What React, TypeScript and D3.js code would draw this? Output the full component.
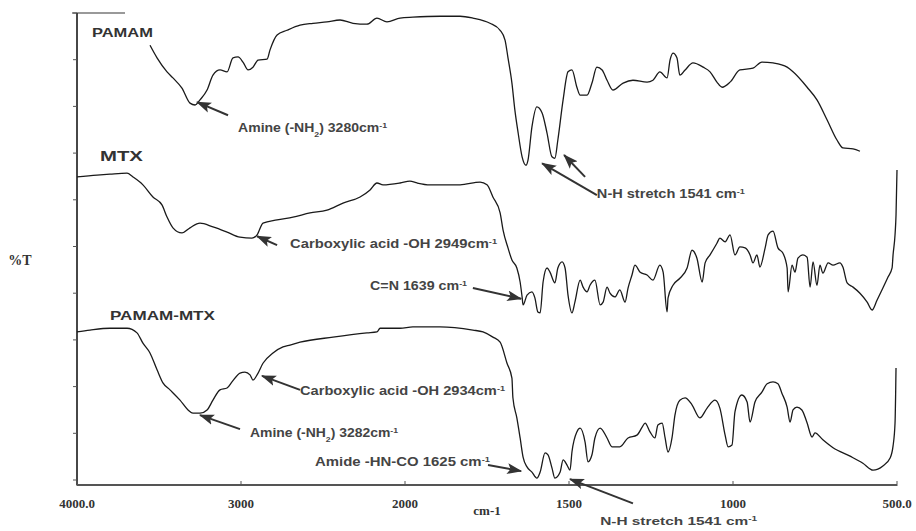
import React from "react";
import * as d3 from "d3";

// ---- data: [wavenumber cm-1, transmittance (arbitrary %T units)] ----
const PAMAM: [number, number][] = [
  [3555, 93.1], [3512, 90.4], [3451, 87.4], [3415, 86.1], [3360, 83.9], [3311, 80.7], [3280, 80.3],
  [3250, 81.4], [3207, 83.5], [3171, 86.7], [3128, 87.8], [3085, 87.4], [3049, 90.4], [3018, 90.6],
  [2988, 89.5], [2957, 87.8], [2927, 88.4], [2896, 89.9], [2841, 90.1], [2823, 92.1], [2780, 95.3],
  [2720, 96.3], [2640, 97.4], [2561, 97.8], [2476, 98.1], [2396, 98.5], [2317, 97.8], [2232, 97.6],
  [2171, 98.9], [2110, 98.1], [2030, 98.9], [1976, 99.1], [1893, 99.3], [1832, 99.3], [1793, 98.9],
  [1741, 97.8], [1710, 96.3], [1695, 94.2], [1686, 90.4], [1674, 85.0], [1665, 79.2], [1655, 74.3],
  [1643, 69.2], [1631, 67.4], [1625, 68.5], [1613, 75.6], [1598, 79.9], [1582, 78.6], [1567, 74.3],
  [1552, 69.2], [1543, 68.9], [1534, 72.8], [1518, 81.4], [1503, 87.4], [1491, 87.8], [1476, 84.1],
  [1466, 82.4], [1445, 82.4], [1430, 85.0], [1415, 88.4], [1399, 87.8], [1384, 85.6], [1366, 83.5],
  [1335, 85.0], [1305, 85.6], [1262, 85.2], [1244, 85.6], [1223, 87.4], [1201, 86.1], [1192, 89.9],
  [1183, 91.4], [1171, 90.4], [1162, 86.7], [1146, 87.8], [1122, 89.3], [1091, 88.4], [1070, 87.4],
  [1049, 85.2], [1033, 84.1], [1009, 85.2], [979, 87.8], [939, 88.2], [912, 89.5], [878, 89.3],
  [835, 88.4], [817, 87.4], [774, 84.1], [744, 81.4], [713, 77.1], [683, 72.8], [665, 71.1],
  [634, 70.9], [613, 70.4],
];

const MTX: [number, number][] = [
  [4000, 64.9], [3878, 65.3], [3799, 65.5], [3695, 65.7], [3659, 64.9], [3598, 63.2], [3537, 60.6],
  [3482, 58.9], [3451, 56.3], [3415, 54.0], [3360, 52.9], [3311, 54.0], [3250, 55.0], [3171, 54.2],
  [3085, 53.1], [3006, 52.0], [2933, 51.8], [2902, 52.5], [2866, 55.0], [2780, 55.7], [2683, 56.3],
  [2579, 57.2], [2476, 57.8], [2378, 59.3], [2274, 60.6], [2213, 62.1], [2171, 63.6], [2134, 63.2],
  [2030, 63.6], [1985, 64.0], [1963, 63.6], [1924, 63.2], [1832, 63.2], [1771, 63.8], [1750, 63.2],
  [1732, 60.6], [1710, 57.2], [1701, 53.5], [1686, 49.7], [1674, 47.1], [1659, 45.4], [1649, 42.4],
  [1643, 39.2], [1640, 37.5], [1628, 39.6], [1613, 40.3], [1604, 39.0], [1595, 36.0], [1588, 35.8],
  [1579, 42.4], [1567, 45.4], [1558, 44.5], [1543, 42.2], [1534, 45.4], [1521, 46.7], [1512, 45.4],
  [1503, 39.6], [1491, 35.8], [1482, 38.1], [1466, 42.8], [1457, 41.3], [1445, 40.3], [1436, 41.7],
  [1421, 42.8], [1405, 37.5], [1396, 38.1], [1384, 41.3], [1375, 40.0], [1360, 39.2], [1345, 40.7],
  [1329, 38.1], [1320, 41.1], [1308, 43.9], [1299, 46.0], [1283, 44.5], [1262, 43.9], [1244, 42.8],
  [1223, 46.0], [1213, 44.5], [1201, 36.0], [1198, 39.0], [1183, 41.7], [1162, 43.2], [1140, 45.4],
  [1125, 49.2], [1110, 47.5], [1094, 42.4], [1085, 46.5], [1070, 48.2], [1049, 50.7], [1040, 51.8],
  [1024, 51.0], [1009, 52.5], [994, 48.2], [979, 49.9], [963, 49.7], [948, 48.2], [939, 46.5],
  [927, 48.2], [918, 45.6], [902, 49.7], [893, 52.5], [878, 53.3], [863, 49.7], [848, 48.6],
  [835, 45.4], [832, 40.3], [820, 46.0], [811, 44.5], [802, 47.5], [787, 48.2], [774, 47.7],
  [765, 41.3], [756, 46.7], [744, 41.7], [735, 46.0], [726, 44.3], [710, 46.5], [695, 46.0],
  [674, 46.5], [665, 45.6], [652, 42.2], [634, 41.3], [613, 40.0], [591, 38.1], [576, 36.4],
  [561, 38.5], [543, 41.1], [527, 43.5], [515, 45.4], [512, 48.2], [506, 52.5], [503, 56.7], [500, 66.4],
];

const PAMAM_MTX: [number, number][] = [
  [4000, 31.7], [3921, 32.1], [3799, 32.5], [3695, 32.5], [3634, 31.5], [3598, 29.3], [3555, 27.2],
  [3512, 23.6], [3476, 20.8], [3433, 19.3], [3372, 17.1], [3323, 15.0], [3293, 14.3], [3250, 14.3],
  [3207, 15.0], [3171, 17.1], [3128, 19.3], [3085, 19.7], [3055, 21.0], [3006, 22.9], [2976, 23.1],
  [2945, 22.5], [2927, 21.4], [2902, 22.5], [2866, 25.0], [2805, 27.2], [2744, 28.5], [2701, 28.9],
  [2640, 29.5], [2439, 30.6], [2232, 31.5], [2171, 31.7], [2152, 32.5], [2030, 32.5], [1976, 32.8],
  [1893, 32.8], [1793, 32.1], [1762, 31.7], [1732, 30.6], [1710, 29.5], [1689, 25.0], [1674, 21.8],
  [1671, 17.6], [1659, 13.3], [1649, 9.0], [1640, 4.9], [1628, 2.8], [1613, 1.7], [1598, 0.4],
  [1588, 1.7], [1573, 5.8], [1564, 5.4], [1552, 2.6], [1543, 0.4], [1527, 1.7], [1518, 4.3],
  [1506, 3.2], [1497, 2.1], [1491, 6.0], [1476, 10.3], [1466, 11.1], [1451, 8.1], [1442, 3.9],
  [1430, 5.4], [1421, 9.0], [1405, 11.1], [1384, 9.0], [1369, 7.1], [1345, 7.1], [1320, 9.0],
  [1293, 9.6], [1277, 11.3], [1268, 12.2], [1253, 10.3], [1238, 9.0], [1229, 11.8], [1216, 12.2],
  [1207, 9.0], [1198, 6.0], [1186, 9.0], [1177, 13.9], [1162, 17.1], [1146, 17.6], [1125, 16.1],
  [1101, 13.3], [1079, 15.4], [1055, 17.1], [1040, 15.4], [1024, 9.6], [1015, 7.1], [1003, 7.5],
  [994, 14.6], [973, 18.2], [957, 16.7], [948, 12.4], [933, 16.7], [912, 18.8], [896, 20.6],
  [878, 21.0], [863, 20.6], [851, 18.6], [835, 15.6], [826, 12.4], [817, 15.0], [805, 15.6],
  [790, 15.0], [774, 12.2], [759, 9.2], [750, 10.1], [726, 8.6], [695, 6.9], [643, 5.1], [604, 3.6],
  [573, 2.1], [543, 3.0], [521, 4.7], [512, 7.3], [506, 12.2], [503, 24.0],
];

const X_TICKS = [4000, 3000, 2000, 1500, 1000, 500];
const X_TICK_LABELS = ["4000.0", "3000", "2000", "1500", "1000", "500.0"];
const Y_TICKS = [0, 10, 20, 30, 40, 50, 60, 70, 80, 90, 100];

// series names: [text, wavenumber, %T]
const SERIES_LABELS: [string, number, number][] = [
  ["PAMAM", 3909, 94.8],
  ["MTX", 3860, 68.3],
  ["PAMAM-MTX", 3799, 34.3],
];
const SERIES_LABEL_WIDTH = [61, 43, 105];

// annotations: text parts, text anchor (wn, T), arrows [tailWn, tailT, tipWn, tipT]
type Part = { t: string; s?: "sup" | "sub" };
const ANNOT_TEXTS: Part[][] = [
  [{ t: "Amine (-NH" }, { t: "2", s: "sub" }, { t: ") 3280cm" }, { t: "-1", s: "sup" }],
  [{ t: "N-H stretch 1541 cm" }, { t: "-1", s: "sup" }],
  [{ t: "Carboxylic acid -OH 2949cm" }, { t: "-1", s: "sup" }],
  [{ t: "C=N 1639 cm" }, { t: "-1", s: "sup" }],
  [{ t: "Carboxylic acid -OH 2934cm" }, { t: "-1", s: "sup" }],
  [{ t: "Amine (-NH" }, { t: "2", s: "sub" }, { t: ") 3282cm" }, { t: "-1", s: "sup" }],
  [{ t: "Amide -HN-CO 1625 cm" }, { t: "-1", s: "sup" }],
  [{ t: "N-H stretch 1541 cm" }, { t: "-1", s: "sup" }],
];
const ANNOT_POS: [number, number][] = [
  [3018, 74.7], [1415, 60.4], [2701, 49.7], [2213, 40.7], [2640, 18.4], [2945, 9.4], [2549, 3.0], [1405, -9.6],
];
const ANNOT_WIDTH = [149, 148, 207, 97, 205, 148, 175, 157];
const ARROWS: [number, number, number, number][] = [
  [3079, 78.1, 3268, 80.9],
  [1415, 61.0, 1582, 67.8],
  [1451, 64.9, 1515, 69.6],
  [2780, 50.3, 2902, 52.2],
  [1793, 41.1, 1646, 38.8],
  [2640, 19.3, 2872, 22.3],
  [3006, 10.9, 3250, 13.9],
  [1747, 3.2, 1646, 1.9],
  [1305, -5.0, 1497, 0.2],
];

const W = 916;
const H = 531;

export default function App() {
  const x = d3.scaleLinear().domain([4000, 2000, 500]).range([77, 405, 897]);
  const y = d3.scaleLinear().domain([0, 100]).range([480, 13]);
  const line = d3
    .line<[number, number]>()
    .x((d) => x(d[0]))
    .y((d) => y(d[1]))
    .curve(d3.curveMonotoneX);

  const sans = "'Liberation Sans', Arial, sans-serif";
  const serif = "'Liberation Serif', 'Times New Roman', serif";
  const axisY = 485;

  return (
    <svg
      width={W}
      height={H}
      viewBox={`0 0 ${W} ${H}`}
      style={{ position: "absolute", left: 0, top: 0, background: "#fff" }}
    >
      <defs>
        <marker
          id="ah"
          viewBox="0 0 14 10"
          refX="13"
          refY="5"
          markerWidth="15"
          markerHeight="11"
          markerUnits="userSpaceOnUse"
          orient="auto"
        >
          <path d="M0,0 L14,5 L0,10 L3,5 Z" fill="#333" />
        </marker>
      </defs>
      <rect x={0} y={0} width={W} height={H} fill="#fff" />

      {/* axes */}
      <line x1={72} x2={125} y1={y(100)} y2={y(100)} stroke="#777" strokeWidth={1.5} />
      <line x1={x(4000)} x2={x(4000)} y1={y(100)} y2={axisY} stroke="#333" strokeWidth={1.8} />
      {Y_TICKS.map((t) => (
        <line key={t} x1={x(4000) - 4} x2={x(4000)} y1={y(t)} y2={y(t)} stroke="#555" strokeWidth={1} />
      ))}
      <line x1={x(4000)} x2={x(500)} y1={axisY} y2={axisY} stroke="#555" strokeWidth={1.8} />
      {X_TICKS.map((t, i) => (
        <g key={t}>
          <line x1={x(t)} x2={x(t)} y1={axisY - 4} y2={axisY + 1} stroke="#555" strokeWidth={1} />
          <text
            x={x(t)}
            y={508}
            textAnchor="middle"
            fontFamily={serif}
            fontWeight="bold"
            fontSize={13}
            fill="#333"
          >
            {X_TICK_LABELS[i]}
          </text>
        </g>
      ))}
      <text x={487} y={515} textAnchor="middle" fontFamily={serif} fontWeight="bold" fontSize={13} fill="#333">
        cm-1
      </text>
      <text x={20} y={265} textAnchor="middle" fontFamily={serif} fontWeight="bold" fontSize={14} fill="#333">
        %T
      </text>

      {/* spectra */}
      {[PAMAM, MTX, PAMAM_MTX].map((s, i) => (
        <path key={i} d={line(s) || ""} fill="none" stroke="#1a1a1a" strokeWidth={1.3} />
      ))}

      {/* series labels */}
      {SERIES_LABELS.map(([t, wn, v], i) => (
        <text
          key={t}
          x={x(wn)}
          y={y(v)}
          fontFamily={sans}
          fontWeight="bold"
          fontSize={i === 1 ? 15 : 13}
          fill="#333"
          textLength={SERIES_LABEL_WIDTH[i]}
          lengthAdjust="spacingAndGlyphs"
        >
          {t}
        </text>
      ))}

      {/* arrows */}
      {ARROWS.map(([a, b, c, d], i) => (
        <line
          key={i}
          x1={x(a)}
          y1={y(b)}
          x2={x(c)}
          y2={y(d)}
          stroke="#333"
          strokeWidth={2}
          markerEnd="url(#ah)"
        />
      ))}

      {/* annotation texts */}
      {ANNOT_TEXTS.map((parts, i) => (
        <text
          key={i}
          x={x(ANNOT_POS[i][0])}
          y={y(ANNOT_POS[i][1]) + 0.5}
          fontFamily={sans}
          fontWeight="bold"
          fontSize={i === 7 ? 11.5 : 12}
          fill="#444"
          textLength={ANNOT_WIDTH[i]}
          lengthAdjust="spacingAndGlyphs"
        >
          {parts.map((p, j) =>
            p.s ? (
              <tspan key={j} fontSize={7.5} baselineShift={p.s === "sup" ? "super" : "sub"}>
                {p.t}
              </tspan>
            ) : (
              <tspan key={j}>{p.t}</tspan>
            )
          )}
        </text>
      ))}
    </svg>
  );
}
